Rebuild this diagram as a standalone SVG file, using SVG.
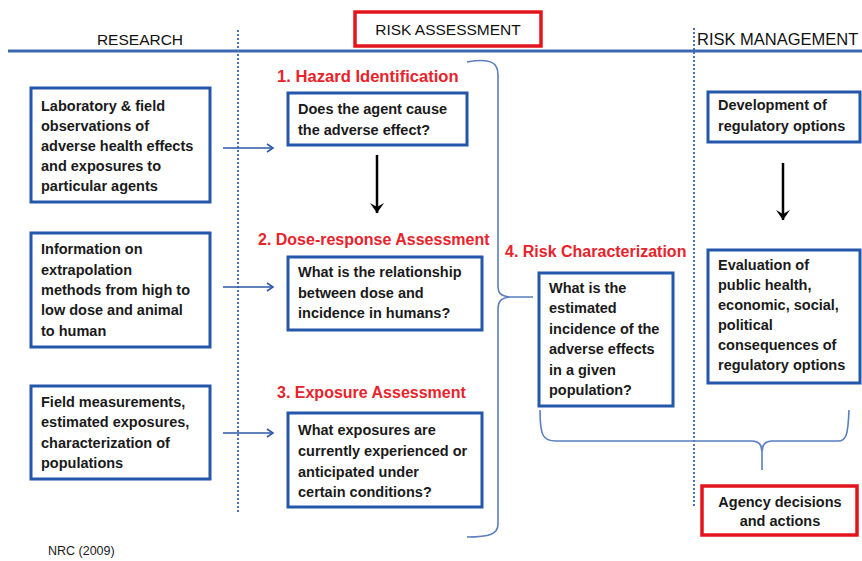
<svg xmlns="http://www.w3.org/2000/svg" width="862" height="561" viewBox="0 0 862 561">
<style>
.hdr{font-family:"Liberation Sans",Arial,sans-serif;font-size:15.5px;fill:#111}
.t{font-family:"Liberation Sans",Arial,sans-serif;font-size:14.5px;font-weight:bold;fill:#1a1a1a}
.lbl{font-family:"Liberation Sans",Arial,sans-serif;font-size:16px;font-weight:bold;fill:#e8232b}
.box{fill:#fff;stroke:#2457a8;stroke-width:3}
.rbox{fill:#fff;stroke:#e3141c;stroke-width:3.5}
.dot{stroke:#4a70b6;stroke-width:2;stroke-dasharray:2 2;fill:none}
.ba{stroke:#2d5aa6;stroke-width:1.6;fill:none}
.brace{stroke:#5a7fbf;stroke-width:1.6;fill:none}
.blk{stroke:#000;stroke-width:2.5;fill:none}
</style>
<defs>
<marker id="oh" markerWidth="10" markerHeight="10" refX="8" refY="5" orient="auto" markerUnits="userSpaceOnUse">
<path d="M2,1 L8,5 L2,9" fill="none" stroke="#2d5aa6" stroke-width="1.6"/>
</marker>
<marker id="kh" markerWidth="16" markerHeight="16" refX="8" refY="14" orient="0" markerUnits="userSpaceOnUse">
<path d="M1,4 L8,14 L15,4 L8,8 Z" fill="#000"/>
</marker>
</defs>
<rect width="862" height="561" fill="#fff"/>

<!-- header -->
<g id="header">
<line x1="8" y1="51" x2="862" y2="51" stroke="#3d68b0" stroke-width="3"/>
<text class="hdr" x="140" y="45" text-anchor="middle">RESEARCH</text>
<text class="hdr" x="697" y="45" style="font-size:16.5px">RISK MANAGEMENT</text>
</g>
<g id="risk-assessment-title">
<rect class="rbox" x="355" y="12" width="186" height="34"/>
<text class="hdr" x="448" y="35" text-anchor="middle">RISK ASSESSMENT</text>
</g>
<line class="dot" x1="238" y1="30" x2="238" y2="512"/>
<line class="dot" x1="694" y1="28" x2="694" y2="508"/>

<!-- research -->
<g id="r1">
<rect class="box" x="31" y="88" width="179" height="114"/>
<text class="t" x="41" y="111">Laboratory &amp; field</text>
<text class="t" x="41" y="131">observations of</text>
<text class="t" x="41" y="151">adverse health effects</text>
<text class="t" x="41" y="171">and exposures to</text>
<text class="t" x="41" y="191">particular agents</text>
</g>
<g id="r2">
<rect class="box" x="31" y="233" width="179" height="114"/>
<text class="t" x="41" y="254">Information on</text>
<text class="t" x="41" y="275">extrapolation</text>
<text class="t" x="41" y="295">methods from high to</text>
<text class="t" x="41" y="315">low dose and animal</text>
<text class="t" x="41" y="336">to human</text>
</g>
<g id="r3">
<rect class="box" x="31" y="386" width="179" height="93"/>
<text class="t" x="41" y="407">Field measurements,</text>
<text class="t" x="41" y="427">estimated exposures,</text>
<text class="t" x="41" y="448">characterization of</text>
<text class="t" x="41" y="468">populations</text>
</g>
<text x="48" y="555" style="font-family:'Liberation Sans',Arial,sans-serif;font-size:12.5px;fill:#1a1a1a">NRC (2009)</text>

<!-- assessment -->
<g id="hazard">
<text class="lbl" x="277" y="82" style="font-size:16.6px">1. Hazard Identification</text>
<rect class="box" x="288" y="93" width="179" height="52"/>
<text class="t" x="298" y="114">Does the agent cause</text>
<text class="t" x="298" y="135">the adverse effect?</text>
</g>
<g id="dose">
<text class="lbl" x="258" y="245">2. Dose-response Assessment</text>
<rect class="box" x="288" y="257" width="194" height="73"/>
<text class="t" x="298" y="277">What is the relationship</text>
<text class="t" x="298" y="298">between dose and</text>
<text class="t" x="298" y="318">incidence in humans?</text>
</g>
<g id="exposure">
<text class="lbl" x="277" y="398">3. Exposure Assessment</text>
<rect class="box" x="288" y="413" width="194" height="94"/>
<text class="t" x="298" y="435">What exposures are</text>
<text class="t" x="298" y="456">currently experienced or</text>
<text class="t" x="298" y="477">anticipated under</text>
<text class="t" x="298" y="497">certain conditions?</text>
</g>
<g id="riskchar">
<text class="lbl" x="505" y="257">4. Risk Characterization</text>
<rect class="box" x="539" y="273" width="134" height="133"/>
<text class="t" x="549" y="293">What is the</text>
<text class="t" x="549" y="313">estimated</text>
<text class="t" x="549" y="334">incidence of the</text>
<text class="t" x="549" y="354">adverse effects</text>
<text class="t" x="549" y="375">in a given</text>
<text class="t" x="549" y="395">population?</text>
</g>

<!-- management -->
<g id="devel">
<rect class="box" x="708" y="92" width="152" height="50"/>
<text class="t" x="718" y="110">Development of</text>
<text class="t" x="718" y="131">regulatory options</text>
</g>
<g id="eval">
<rect class="box" x="708" y="250" width="152" height="133"/>
<text class="t" x="718" y="270">Evaluation of</text>
<text class="t" x="718" y="290">public health,</text>
<text class="t" x="718" y="310">economic, social,</text>
<text class="t" x="718" y="330">political</text>
<text class="t" x="718" y="350">consequences of</text>
<text class="t" x="718" y="370">regulatory options</text>
</g>
<g id="agency">
<rect class="rbox" x="702" y="486" width="155" height="49"/>
<text class="t" x="780" y="507" text-anchor="middle">Agency decisions</text>
<text class="t" x="780" y="526" text-anchor="middle">and actions</text>
</g>

<!-- connectors -->
<g id="connectors">
<line class="ba" x1="223" y1="148" x2="273" y2="148" marker-end="url(#oh)"/>
<line class="ba" x1="223" y1="287" x2="273" y2="287" marker-end="url(#oh)"/>
<line class="ba" x1="223" y1="433" x2="273" y2="433" marker-end="url(#oh)"/>
<line class="blk" x1="377" y1="155" x2="377" y2="213" marker-end="url(#kh)"/>
<line class="blk" x1="783" y1="163" x2="783" y2="220" marker-end="url(#kh)"/>
<path class="brace" d="M467,62 C490,58 498,62 498,75 L498,285 C498,293 500,296 510,297 L533,297 M510,297 C500,298 498,302 498,310 L498,524 C498,534 490,537 467,537"/>
<path class="brace" d="M540,410 C540,436 543,441 556,441 L752,441 C758,441 762,444 762,452 L762,470 M762,452 C762,444 766,441 772,441 L838,441 C846,441 848,436 849,410"/>
</g>
</svg>
